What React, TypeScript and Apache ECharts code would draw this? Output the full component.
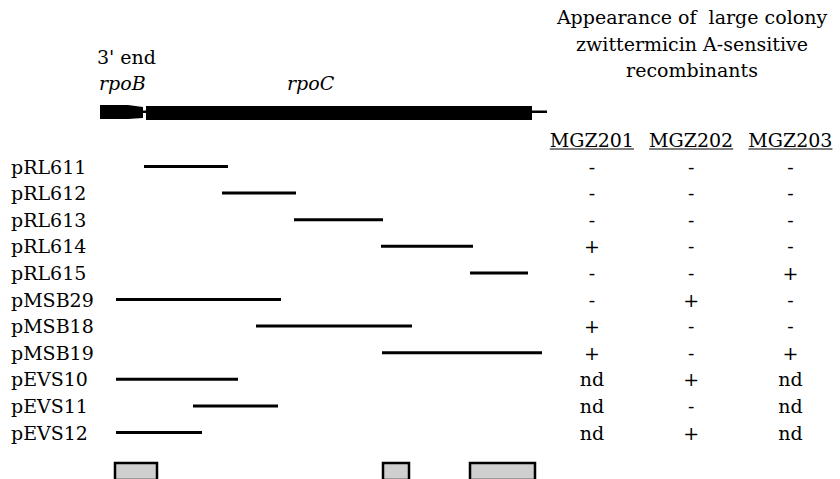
import React, { useEffect, useRef } from 'react';
import * as echarts from 'echarts';

// ---- data ----
const clones = ['pRL611', 'pRL612', 'pRL613', 'pRL614', 'pRL615', 'pMSB29', 'pMSB18', 'pMSB19', 'pEVS10', 'pEVS11', 'pEVS12'];
const cloneStart = [44, 122, 194, 281, 370, 16, 156, 282, 16, 93, 16];
const cloneEnd = [128, 196, 283, 373, 428, 181, 312, 442, 138, 178, 102];

const strains = ['MGZ201', 'MGZ202', 'MGZ203'];
const mgz201 = ['-', '-', '-', '+', '-', '-', '+', '+', 'nd', 'nd', 'nd'];
const mgz202 = ['-', '-', '-', '-', '-', '+', '-', '-', '+', '-', '+'];
const mgz203 = ['-', '-', '-', '-', '+', '-', '-', '+', 'nd', 'nd', 'nd'];

const geneParts = ['rpoB', 'link', 'rpoC', 'tail'];
const geneStart = [0, 43, 46, 432];
const geneEnd = [43, 46, 432, 447];

const boxStart = [14, 282, 369];
const boxEnd = [58, 310, 436];

const headerLines = ['Appearance of  large colony', 'zwittermicin A-sensitive', 'recombinants'];

const FONT = 'DejaVu Serif';
const FS = 19;

export default function App() {
  const ref = useRef<HTMLDivElement>(null);

  useEffect(() => {
    const chart = echarts.init(ref.current as HTMLDivElement, null, { renderer: 'svg' });

    const MAP_LEFT = 100;
    const MAP_W = 450;
    const ROW0 = 166.5;
    const ROW_H = 26.6;
    const gridTop = ROW0 - ROW_H / 2;
    const gridH = ROW_H * clones.length;
    const COL0 = 593;
    const COL_W = 101.5;

    const ctx = document.createElement('canvas').getContext('2d') as CanvasRenderingContext2D;
    ctx.font = `${FS}px "DejaVu Serif"`;
    const measure = (t: string) => ctx.measureText(t).width;

    const tableCols = [mgz201, mgz202, mgz203];
    const tableData: number[][] = [];
    const tableText: string[] = [];
    tableCols.forEach((col, ci) =>
      col.forEach((v, ri) => {
        tableData.push([ci, ri]);
        tableText.push(v);
      })
    );

    const txt = (text: string, italic = false) => ({
      text,
      fontFamily: FONT,
      fontSize: FS,
      fontStyle: italic ? 'italic' : 'normal',
      fill: '#000',
    });

    const option: any = {
      animation: false,
      textStyle: { fontFamily: FONT, color: '#000' },
      grid: [
        { left: MAP_LEFT, width: MAP_W, top: 105, height: 15 },
        { left: MAP_LEFT, width: MAP_W, top: gridTop, height: gridH },
        { left: COL0 - COL_W / 2, width: COL_W * 3, top: gridTop, height: gridH },
        { left: MAP_LEFT, width: MAP_W, top: 462, height: 20 },
      ],
      xAxis: [
        { gridIndex: 0, type: 'value', min: 0, max: 450, show: false },
        { gridIndex: 1, type: 'value', min: 0, max: 450, show: false },
        {
          gridIndex: 2,
          type: 'category',
          data: strains,
          position: 'top',
          axisLine: { show: false },
          axisTick: { show: false },
          splitLine: { show: false },
          axisLabel: {
            interval: 0,
            margin: gridTop - 139.5,
            verticalAlign: 'middle',
            fontSize: FS,
            fontFamily: FONT,
            color: '#000',
          },
        },
        { gridIndex: 3, type: 'value', min: 0, max: 450, show: false },
      ],
      yAxis: [
        { gridIndex: 0, type: 'value', min: 0, max: 1, show: false },
        {
          gridIndex: 1,
          type: 'category',
          data: clones,
          inverse: true,
          axisLine: { show: false },
          axisTick: { show: false },
          splitLine: { show: false },
          axisLabel: {
            interval: 0,
            align: 'left',
            margin: MAP_LEFT - 11,
            fontSize: FS,
            fontFamily: FONT,
            color: '#000',
          },
        },
        { gridIndex: 2, type: 'category', data: clones, inverse: true, show: false },
        { gridIndex: 3, type: 'value', min: 0, max: 1, show: false },
      ],
      graphic: [
        ...headerLines.map((t, i) => ({
          type: 'text',
          x: 692,
          y: 17 + i * 26.5,
          style: { ...txt(t), align: 'center', verticalAlign: 'middle' },
        })),
        {
          type: 'text',
          x: 97,
          y: 57,
          style: { ...txt("3' end"), align: 'left', verticalAlign: 'middle' },
        },
        {
          type: 'text',
          x: 99,
          y: 83,
          style: { ...txt('rpoB', true), align: 'left', verticalAlign: 'middle' },
        },
        {
          type: 'text',
          x: 287,
          y: 83,
          style: { ...txt('rpoC', true), align: 'left', verticalAlign: 'middle' },
        },
      ],
      series: [
        {
          type: 'custom',
          name: 'gene map',
          xAxisIndex: 0,
          yAxisIndex: 0,
          silent: true,
          data: geneStart.map((s, i) => [s, geneEnd[i], 0]),
          encode: { x: [0, 1], y: 2 },
          renderItem: (params: any, api: any) => {
            const kind = geneParts[params.dataIndex];
            const p1 = api.coord([api.value(0), 1]);
            const p2 = api.coord([api.value(1), 0]);
            const x1 = p1[0], yT = p1[1], x2 = p2[0], yB = p2[1];
            const w = x2 - x1;
            const style = { fill: '#000' };
            if (kind === 'rpoB') {
              const xm = x1 + w * 0.65;
              return {
                type: 'polygon',
                shape: { points: [[x1, yT], [xm, yT], [x2, yT + 2], [x2, yB - 2], [xm, yB - 1], [x1, yB - 1]] },
                style,
              };
            }
            if (kind === 'rpoC') {
              return { type: 'rect', shape: { x: x1, y: yT + 1, width: w, height: yB - yT - 1 }, style };
            }
            return { type: 'rect', shape: { x: x1, y: yT + 5.5, width: w, height: 2.5 }, style };
          },
        },
        {
          type: 'custom',
          name: 'clones',
          xAxisIndex: 1,
          yAxisIndex: 1,
          silent: true,
          data: cloneStart.map((s, i) => [s, cloneEnd[i], i]),
          encode: { x: [0, 1], y: 2 },
          renderItem: (params: any, api: any) => {
            const a = api.coord([api.value(0), api.value(2)]);
            const b = api.coord([api.value(1), api.value(2)]);
            return {
              type: 'line',
              shape: { x1: a[0], y1: a[1], x2: b[0], y2: b[1] },
              style: { stroke: '#000', lineWidth: 3 },
            };
          },
        },
        {
          type: 'custom',
          name: 'header underline',
          xAxisIndex: 2,
          yAxisIndex: 2,
          silent: true,
          data: strains.map((_, i) => [i, 0]),
          encode: { x: 0, y: 1 },
          renderItem: (params: any, api: any) => {
            const c = api.coord([api.value(0), 0]);
            const w = measure(strains[params.dataIndex]);
            const y = c[1] - (ROW0 - 149);
            return {
              type: 'line',
              shape: { x1: c[0] - w / 2, y1: y, x2: c[0] + w / 2, y2: y },
              style: { stroke: '#000', lineWidth: 1.2 },
            };
          },
        },
        {
          type: 'custom',
          name: 'table',
          xAxisIndex: 2,
          yAxisIndex: 2,
          silent: true,
          data: tableData,
          encode: { x: 0, y: 1 },
          renderItem: (params: any, api: any) => {
            const c = api.coord([api.value(0), api.value(1)]);
            return {
              type: 'text',
              x: c[0],
              y: c[1],
              style: { ...txt(tableText[params.dataIndex]), align: 'center', verticalAlign: 'middle' },
            };
          },
        },
        {
          type: 'custom',
          name: 'boxes',
          xAxisIndex: 3,
          yAxisIndex: 3,
          silent: true,
          data: boxStart.map((s, i) => [s, boxEnd[i], 0]),
          encode: { x: [0, 1], y: 2 },
          renderItem: (params: any, api: any) => {
            const p1 = api.coord([api.value(0), 1]);
            const p2 = api.coord([api.value(1), 0]);
            return {
              type: 'rect',
              shape: { x: p1[0] + 1, y: p1[1] + 1, width: p2[0] - p1[0] - 2, height: p2[1] - p1[1] },
              style: { fill: '#cfcfcf', stroke: '#000', lineWidth: 2.5 },
            };
          },
        },
      ],
    };

    chart.setOption(option);
    return () => chart.dispose();
  }, []);

  return <div ref={ref} style={{ position: 'fixed', left: 0, top: 0, width: 840, height: 479, background: '#fff' }} />;
}
